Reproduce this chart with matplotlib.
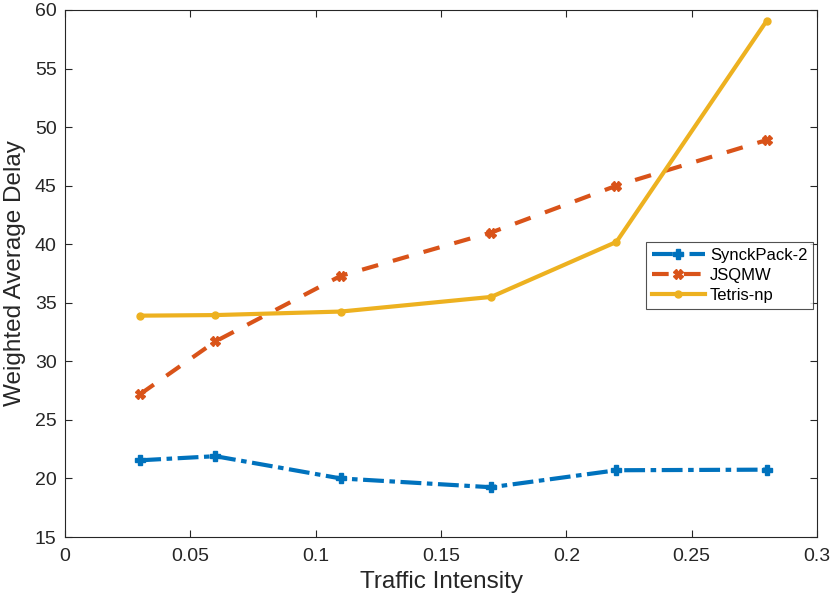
import numpy as np
import matplotlib
matplotlib.use('Agg')
import matplotlib.pyplot as plt

plt.rcParams['font.family'] = ['Liberation Sans', 'DejaVu Sans']
plt.rcParams['lines.scale_dashes'] = False

# traffic intensity values
traffic = [0.03, 0.06, 0.11, 0.17, 0.22, 0.28]

# weighted average delay per scheme
synckpack2 = [21.55, 21.9, 20.0, 19.25, 20.7, 20.75]
jsqmw      = [27.2, 31.7, 37.3, 41.0, 45.0, 48.9]
tetris_np  = [33.9, 33.95, 34.25, 35.5, 40.2, 59.1]

names = ['SynckPack-2', 'JSQMW', 'Tetris-np']

fig = plt.figure(figsize=(8.3, 6.1), dpi=100)
ax = fig.add_axes([65/830, 73/610, 752/830, 527/610])

ax.plot(traffic, synckpack2, color='#0072BD', linestyle=(0, (15, 4, 4, 4)), linewidth=3,
        marker='P', markersize=7, label=names[0])
ax.plot(traffic, jsqmw, color='#D95319', linestyle=(0, (12, 11)), linewidth=3,
        marker='X', markersize=7, label=names[1])
ax.plot(traffic, tetris_np, color='#EDB120', linestyle='-', linewidth=3,
        marker='o', markersize=5, label=names[2])

ax.set_xlim(0, 0.3)
ax.set_ylim(15, 60)
ax.set_xticks([0, 0.05, 0.1, 0.15, 0.2, 0.25, 0.3])
ax.set_xticklabels(['0', '0.05', '0.1', '0.15', '0.2', '0.25', '0.3'])
ax.set_yticks(np.arange(15, 61, 5))

ax.tick_params(direction='in', length=5, labelsize=14, colors='#262626',
               top=True, right=True)
ax.tick_params(axis='x', pad=8)
ax.tick_params(axis='y', pad=6)
for s in ax.spines.values():
    s.set_color('#262626')
    s.set_linewidth(0.8)

ax.set_xlabel('Traffic Intensity', fontsize=17.5, color='#262626', labelpad=4)
ax.set_ylabel('Weighted Average Delay', fontsize=17.5, color='#262626', labelpad=6)

leg = ax.legend(loc='upper right', bbox_to_anchor=(0.995, 0.56), fontsize=12,
                frameon=True, fancybox=False, edgecolor='#262626',
                handlelength=3.2, borderpad=0.35, labelspacing=0.3,
                handletextpad=0.3, borderaxespad=0)
leg.get_frame().set_linewidth(0.8)

fig.savefig('out.png', dpi=100)
